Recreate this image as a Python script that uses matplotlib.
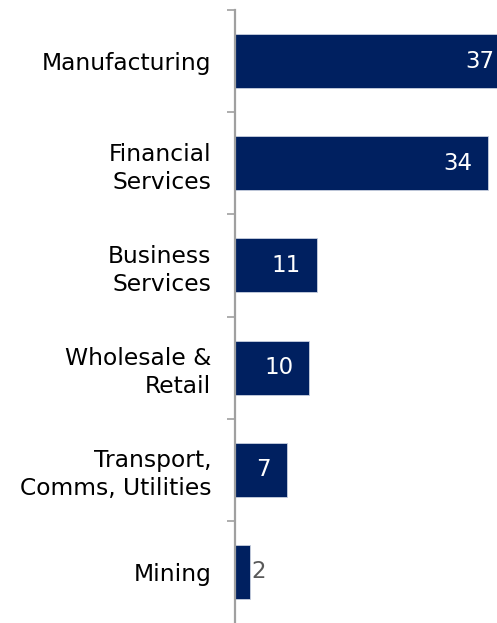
import matplotlib.pyplot as plt
import numpy as np

categories = ['Manufacturing', 'Financial\nServices', 'Business\nServices',
              'Wholesale &\nRetail', 'Transport,\nComms, Utilities', 'Mining']
values = [37, 34, 11, 10, 7, 2]
inside = [True, True, True, True, True, False]

navy = '#002060'

fig = plt.figure(figsize=(4.97, 6.23), dpi=100)
# axes runs past the right edge so the first bar gets cut off like in the source
ax = fig.add_axes([235 / 497, 0, 297.6 / 497, 613 / 623])

y = np.arange(len(categories))
ax.barh(y, values, height=0.53, color=navy, edgecolor='#c8d0e0', linewidth=0.6)

for yi, v, ins in zip(y, values, inside):
    if ins:
        ax.annotate(str(v), (v, yi), xytext=(-11.5, 0), textcoords='offset points',
                    ha='right', va='center', color='white', fontsize=16.5,
                    family='DejaVu Sans')
    else:
        ax.annotate(str(v), (v, yi), xytext=(1.2, 0), textcoords='offset points',
                    ha='left', va='center', color='#595959', fontsize=16.5,
                    family='DejaVu Sans')

ax.set_xlim(0, 40)
ax.set_ylim(len(categories) - 0.5, -0.5)

ax.set_yticks(y)
ax.set_yticklabels(categories, fontsize=16.8, color='#000000', linespacing=1.28)
ax.set_yticks(np.arange(-0.5, len(categories) - 1, 1), minor=True)
ax.tick_params(axis='y', which='major', length=0, pad=17)
ax.tick_params(axis='y', which='minor', length=6, width=1.2, color='#a0a0a0', direction='out')
ax.set_xticks([])

for s in ['top', 'right', 'bottom']:
    ax.spines[s].set_visible(False)
ax.spines['left'].set_color('#a0a0a0')
ax.spines['left'].set_linewidth(1.6)

fig.savefig('out.png', dpi=100)
